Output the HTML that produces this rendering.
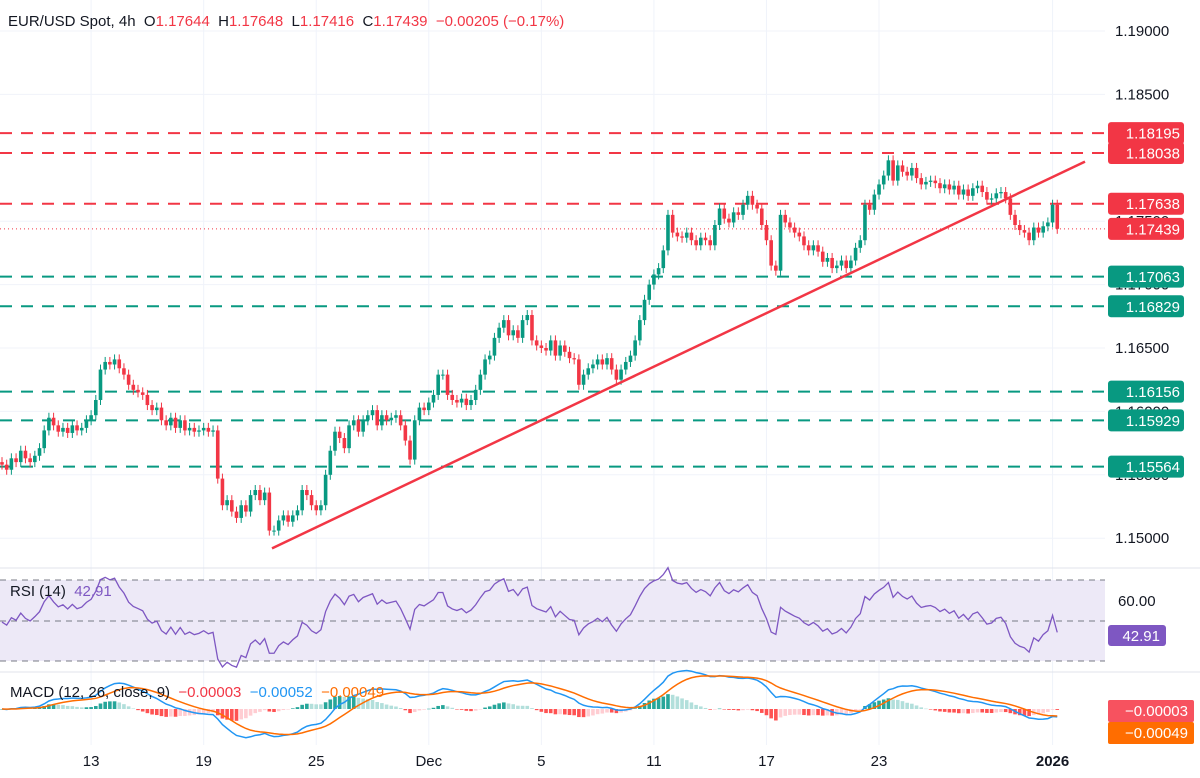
<!DOCTYPE html>
<html><head><meta charset="utf-8"><style>
html,body{margin:0;padding:0;background:#fff;width:1200px;height:778px;overflow:hidden}
svg{display:block;font-family:"Liberation Sans",sans-serif}
</style></head><body>
<svg id="c" width="1200" height="778" viewBox="0 0 1200 778"></svg>
<script>
const closes=[1.1558,1.1554,1.1563,1.1560,1.1569,1.1563,1.1560,1.1565,1.1571,1.1585,1.1595,1.1589,1.1584,1.1587,1.1583,1.1589,1.1585,1.1587,1.1593,1.1597,1.1609,1.1633,1.1639,1.1637,1.1641,1.1634,1.1629,1.1621,1.1617,1.1615,1.1613,1.1605,1.1601,1.1603,1.1593,1.1589,1.1595,1.1587,1.1593,1.1585,1.1587,1.1584,1.1585,1.1587,1.1584,1.1585,1.1547,1.1526,1.1530,1.1521,1.1516,1.1526,1.1521,1.1534,1.1538,1.1530,1.1536,1.1506,1.1506,1.1514,1.1518,1.1513,1.1518,1.1522,1.1538,1.1534,1.1526,1.1522,1.1526,1.1550,1.1569,1.1584,1.1579,1.1571,1.1589,1.1593,1.1584,1.1593,1.1597,1.1601,1.1589,1.1597,1.1593,1.1595,1.1597,1.1589,1.1577,1.1562,1.1593,1.1603,1.1601,1.1607,1.1613,1.1629,1.1629,1.1613,1.1609,1.1607,1.1610,1.1605,1.1609,1.1617,1.1629,1.1641,1.1644,1.1658,1.1666,1.1672,1.1660,1.1664,1.1658,1.1672,1.1676,1.1656,1.1652,1.1650,1.1648,1.1656,1.1644,1.1652,1.1647,1.1642,1.1641,1.1621,1.1629,1.1634,1.1637,1.1641,1.1637,1.1642,1.1633,1.1625,1.1633,1.1639,1.1644,1.1656,1.1672,1.1688,1.1700,1.1708,1.1713,1.1727,1.1755,1.1741,1.1738,1.1737,1.1741,1.1735,1.1731,1.1737,1.1735,1.1731,1.1747,1.1760,1.1752,1.1749,1.1757,1.1755,1.1763,1.1770,1.1763,1.1760,1.1747,1.1735,1.1715,1.1711,1.1755,1.1749,1.1745,1.1741,1.1738,1.1731,1.1727,1.1731,1.1726,1.1718,1.1721,1.1713,1.1715,1.1719,1.1713,1.1719,1.1729,1.1735,1.1763,1.1759,1.1771,1.1779,1.1786,1.1798,1.1782,1.1794,1.1789,1.1786,1.1792,1.1784,1.1779,1.1781,1.1782,1.1780,1.1776,1.1779,1.1775,1.1778,1.1771,1.1775,1.1770,1.1776,1.1778,1.1773,1.1767,1.1768,1.1772,1.1773,1.1768,1.1755,1.1747,1.1743,1.1741,1.1735,1.1745,1.1741,1.1746,1.1749,1.1763,1.1744];
const firstOpen=1.1560;
const priceTicks=[1.19,1.185,1.175,1.17,1.165,1.16,1.155,1.15];
const resistLevels=[1.18195,1.18038,1.17638];
const supportLevels=[1.17063,1.16829,1.16156,1.15929,1.15564];
const lastPrice=1.17439;
const trendStart=[272,1.1492];
const trendEnd=[1085,1.1797];
const xLabels=["13","19","25","Dec","5","11","17","23","2026"];
const xLabelIdx=[19,43,67,91,115,139,163,187,224];

const S=document.getElementById('c');const NS='http://www.w3.org/2000/svg';
function el(t,a,p){const e=document.createElementNS(NS,t);for(const k in a)e.setAttribute(k,a[k]);(p||S).appendChild(e);return e;}
const PR=1105;
const xi=i=>2+i*4.69;
const py=p=>31+(1.19-p)/0.005*63.4;
const ry=v=>580+(70-(50+(v-50)*0.8))*2.025;
const my=v=>709-v*14000;

for(const i of xLabelIdx){const g=el('line',{x1:xi(i),x2:xi(i),y1:0,y2:745,stroke:'#f0f3fa','stroke-width':1});

}
for(const t of priceTicks){const g=el('line',{x1:0,x2:PR,y1:py(t),y2:py(t),stroke:'#f0f3fa'});

}
el('line',{x1:0,x2:1200,y1:568,y2:568,stroke:'#e0e3eb',});
el('line',{x1:0,x2:1200,y1:672,y2:672,stroke:'#e0e3eb',});

function level(p,col,dash,name){const l=el('line',{x1:0,x2:PR,y1:py(p),y2:py(p),stroke:col,'stroke-width':2,'stroke-dasharray':dash});

}
resistLevels.forEach(p=>level(p,'#f23645','12 9','resistance-line'));
supportLevels.forEach(p=>level(p,'#089981','12 9','support-line'));
const cl=el('line',{x1:0,x2:PR,y1:py(lastPrice),y2:py(lastPrice),stroke:'#f23645','stroke-width':1,'stroke-dasharray':'1 3'});



let prev=firstOpen;
closes.forEach((c,i)=>{const o=prev;prev=c;const up=c>=o;const col=up?'#089981':'#f23645';
const t=Math.min(py(o),py(c)),b=Math.max(py(o),py(c));const x=xi(i);
const w=el('line',{x1:x,x2:x,y1:t-5,y2:b+5,stroke:col,'stroke-width':1});


const r=el('rect',{x:x-1.8,y:t,width:3.6,height:Math.max(1,b-t),fill:col});

});

const tl=el('line',{x1:trendStart[0],y1:py(trendStart[1]),x2:trendEnd[0],y2:py(trendEnd[1]),stroke:'#f23645','stroke-width':2.5});



priceTicks.forEach(t=>{const tx=el('text',{x:1115,y:py(t)+5,'font-size':15,fill:'#131722'});tx.textContent=t.toFixed(5);

});
function tag(y,txt,bg,name){const g=el('g',{});


el('rect',{x:1108,y:y-11,width:76,height:22,rx:3,fill:bg},g);
const t=el('text',{x:1180,y:y+5.5,'font-size':15,fill:'#fff','text-anchor':'end'},g);t.textContent=txt;}
resistLevels.forEach(p=>tag(py(p),p.toFixed(5),'#f23645','resistance-label'));
supportLevels.forEach(p=>tag(py(p),p.toFixed(5),'#089981','support-label'));
tag(py(lastPrice),lastPrice.toFixed(5),'#f23645','last-price-label');

const h=el('text',{x:8,y:26,'font-size':15,fill:'#131722'});
h.innerHTML='EUR/USD Spot, 4h&#160;&#160;O<tspan fill="#f23645">1.17644</tspan>&#160;&#160;H<tspan fill="#f23645">1.17648</tspan>&#160;&#160;L<tspan fill="#f23645">1.17416</tspan>&#160;&#160;C<tspan fill="#f23645">1.17439</tspan>&#160;&#160;<tspan fill="#f23645">−0.00205 (−0.17%)</tspan>';

// RSI
const rsi=[];{let ag=0.0004,al=0.0004;for(let i=0;i<closes.length;i++){const p=i?closes[i-1]:firstOpen;const d=closes[i]-p;const g=Math.max(d,0),l=Math.max(-d,0);
ag=(ag*13+g)/14;al=(al*13+l)/14;
rsi.push(100-100/(1+ag/al));}}
el('rect',{x:0,y:580,width:PR,height:81,fill:'#ede9f7',});
[580,621,661].forEach(y=>el('line',{x1:0,x2:PR,y1:y,y2:y,stroke:'#787b86','stroke-dasharray':'6 5',}));
const rl=el('polyline',{points:rsi.map((v,i)=>xi(i)+','+ry(v)).join(' '),fill:'none',stroke:'#7e57c2','stroke-width':1.3});


const rt=el('text',{x:10,y:596,'font-size':15,fill:'#131722'});rt.innerHTML='RSI (14)&#160;&#160;<tspan fill="#7e57c2">42.91</tspan>';

const r60=el('text',{x:1118,y:606,'font-size':15,fill:'#131722'});r60.textContent='60.00';
const rg=el('g',{});
el('rect',{x:1108,y:625,width:58,height:21,rx:3,fill:'#7e57c2'},rg);
const rv=el('text',{x:1160,y:641,'font-size':15,fill:'#fff','text-anchor':'end'},rg);rv.textContent='42.91';

// MACD
function ema(arr,n){const k=2/(n+1);let e=arr[0];return arr.map(v=>e=v*k+e*(1-k));}
const e12=ema(closes,12),e26=ema(closes,26);const macd=e12.map((v,i)=>v-e26[i]);const sig=ema(macd,9);
macd.forEach((m,i)=>{const hv=m-sig[i];const ph=i?macd[i-1]-sig[i-1]:0;const col=hv>=0?(hv>=ph?'#26a69a':'#b2dfdb'):(hv<ph?'#ff5252':'#ffcdd2');
const y0=my(0),y1=my(hv);const r=el('rect',{x:xi(i)-1.8,y:Math.min(y0,y1),width:3.6,height:Math.max(0.5,Math.abs(y1-y0)),fill:col});

});
const ml=el('polyline',{points:macd.map((v,i)=>xi(i)+','+my(v)).join(' '),fill:'none',stroke:'#2196f3','stroke-width':1.5});

const sl=el('polyline',{points:sig.map((v,i)=>xi(i)+','+my(v)).join(' '),fill:'none',stroke:'#ff6d00','stroke-width':1.5});

const mt=el('text',{x:10,y:697,'font-size':15,fill:'#131722'});mt.innerHTML='MACD (12, 26, close, 9)&#160;&#160;<tspan fill="#f23645">−0.00003</tspan>&#160;&#160;<tspan fill="#2196f3">−0.00052</tspan>&#160;&#160;<tspan fill="#ff6d00">−0.00049</tspan>';

function mtag(y,txt,bg,name){const g=el('g',{});
el('rect',{x:1108,y:y,width:86,height:22,rx:2,fill:bg},g);const t=el('text',{x:1188,y:y+16,'font-size':15,fill:'#fff','text-anchor':'end'},g);t.textContent=txt;}
mtag(700,'−0.00003','#f7525f','macd-hist-label');
mtag(722,'−0.00049','#ff6d00','macd-signal-label');

xLabels.forEach((t,k)=>{const tx=el('text',{x:xi(xLabelIdx[k]),y:766,'font-size':15,fill:'#131722','text-anchor':'middle'});
if(t==='2026')tx.setAttribute('font-weight','bold');tx.textContent=t;

});
</script>
</body></html>
